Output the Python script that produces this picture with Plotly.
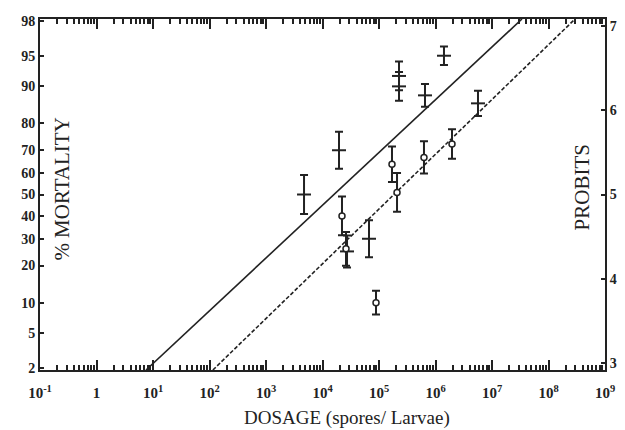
import plotly.graph_objects as go
from statistics import NormalDist

_nd = NormalDist()


def probit(p):
    return 5 + _nd.inv_cdf(p / 100.0)


# ---------------- data ----------------
# "+" series: dose (spores/larva), % mortality, error (probit units)
cross_dose = [4710, 19590, 226000, 226000, 651600, 1413000, 5650000, 66530, 27160]
cross_mort = [50, 70, 92, 90, 88, 95, 86, 30, 25]
cross_err = [0.23, 0.22, 0.17, 0.17, 0.135, 0.11, 0.15, 0.22, 0.19]

# open-circle series
circ_dose = [22130, 26060, 88510, 169800, 208400, 625200, 1959000]
circ_mort = [40, 26, 10, 64, 51, 67, 72.5]
circ_err = [0.23, 0.20, 0.14, 0.21, 0.23, 0.19, 0.175]

# regression lines (dose, probit) end points
solid_dose = [7.52, 33900000]
solid_probit = [2.92, 7.08]
dashed_dose = [114.8, 295000000]
dashed_probit = [2.92, 7.08]

# axes
pct_ticks = [2, 5, 10, 20, 30, 40, 50, 60, 70, 80, 90, 95, 98]
probit_ticks = [3, 4, 5, 6, 7]
x_exps = list(range(-1, 10))
x_labels = ["10<sup>-1</sup>", "1"] + ["10<sup>%d</sup>" % e for e in range(1, 10)]
y_range = [2.92, 7.08]

INK = "#222222"
SERIF = "Liberation Serif"

fig = go.Figure()

fig.add_trace(go.Scatter(
    x=solid_dose, y=solid_probit, mode="lines",
    line=dict(color=INK, width=1.6), showlegend=False, hoverinfo="skip"))
fig.add_trace(go.Scatter(
    x=dashed_dose, y=dashed_probit, mode="lines",
    line=dict(color=INK, width=1.6, dash="4px,2px"), showlegend=False, hoverinfo="skip"))

fig.add_trace(go.Scatter(
    x=cross_dose, y=[probit(p) for p in cross_mort], mode="markers",
    marker=dict(symbol="line-ew", size=10, line=dict(color=INK, width=2)),
    error_y=dict(type="data", array=cross_err, color=INK, thickness=2, width=4),
    showlegend=False))

fig.add_trace(go.Scatter(
    x=circ_dose, y=[probit(p) for p in circ_mort], mode="markers",
    marker=dict(symbol="circle", size=6, color="white", line=dict(color=INK, width=1.5)),
    error_y=dict(type="data", array=circ_err, color=INK, thickness=2, width=4),
    showlegend=False))

# dummy trace for the right axis
fig.add_trace(go.Scatter(x=[1], y=[5], yaxis="y2", mode="markers",
                         marker=dict(opacity=0), showlegend=False, hoverinfo="skip"))

minor_vals = [m * 10 ** e for e in range(-1, 9) for m in range(2, 10)]

# page body has an 8px margin: size/margins compensate so the plot box
# lands at the reference position in the 625x430 window
fig.update_layout(
    width=617, height=422,
    margin=dict(l=32, r=20, t=6, b=60),
    paper_bgcolor="white", plot_bgcolor="white",
    font=dict(family=SERIF, color=INK),
    xaxis=dict(
        type="log", range=[-1, 9],
        tickmode="array", tickvals=[10 ** e for e in x_exps], ticktext=x_labels,
        ticks="inside", ticklen=10, tickwidth=2, tickcolor=INK,
        showline=True, linecolor=INK, linewidth=2, mirror="ticks",
        showgrid=False, zeroline=False, ticklabelstandoff=8,
        tickfont=dict(family=SERIF, size=15, color=INK, weight="bold"),
        minor=dict(tickmode="array", tickvals=minor_vals, ticks="inside",
                   ticklen=5, tickwidth=1.5, tickcolor=INK, showgrid=False),
    ),
    yaxis=dict(
        range=y_range, tickmode="array",
        tickvals=[probit(p) for p in pct_ticks], ticktext=[str(p) for p in pct_ticks],
        ticks="inside", ticklen=4, tickwidth=2, tickcolor=INK,
        showline=True, linecolor=INK, linewidth=2,
        showgrid=False, zeroline=False,
        tickfont=dict(family=SERIF, size=14, color=INK, weight="bold"),
    ),
    yaxis2=dict(
        range=y_range, overlaying="y", side="right", tickmode="array",
        tickvals=probit_ticks, ticktext=[str(v) for v in probit_ticks],
        ticks="inside", ticklen=4, tickwidth=2, tickcolor=INK,
        showline=True, linecolor=INK, linewidth=2,
        showgrid=False, zeroline=False,
        tickfont=dict(family=SERIF, size=14, color=INK, weight="bold"),
    ),
    annotations=[
        dict(text="% MORTALITY", xref="paper", yref="paper", x=0.039, y=0.514,
             xanchor="center", yanchor="middle",
             textangle=-90, showarrow=False, font=dict(family=SERIF, size=21, color=INK)),
        dict(text="PROBITS", xref="paper", yref="paper", x=0.961, y=0.52,
             xanchor="center", yanchor="middle",
             textangle=-90, showarrow=False, font=dict(family=SERIF, size=21, color=INK)),
        dict(text="DOSAGE (spores/ Larvae)", xref="paper", yref="paper", x=0.543, y=-0.136,
             xanchor="center", yanchor="middle",
             showarrow=False, font=dict(family=SERIF, size=19, color=INK)),
    ],
)

fig.write_html("out.html")
